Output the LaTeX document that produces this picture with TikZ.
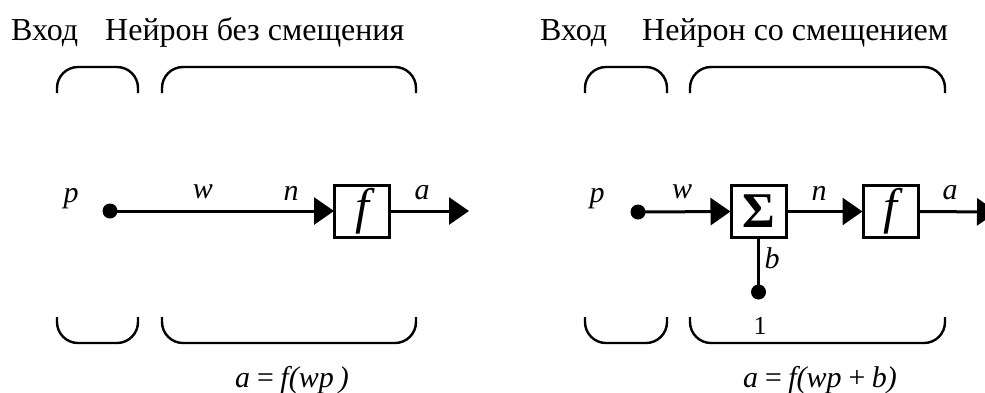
\documentclass[tikz,border=0pt]{standalone}
\usepackage{fontspec}
\setmainfont{Liberation Serif}
\usetikzlibrary{arrows.meta}
\begin{document}
\begin{tikzpicture}[x=1pt,y=-1pt,
  title/.style={font=\fontsize{32}{34}\selectfont, inner sep=0pt, anchor=base west},
  lbl/.style={font=\fontsize{30}{32}\selectfont\itshape, inner sep=0pt},
  formula/.style={font=\fontsize{30}{32}\selectfont\itshape, inner sep=0pt},
  brace/.style={line width=2.4pt, rounded corners=21pt},
  conn/.style={line width=3pt},
  arr/.style={line width=3pt, -{Triangle[length=20pt,width=27pt]}, shorten >=-1pt},
  blockbox/.style={draw, line width=3pt, minimum width=55pt, minimum height=52pt, inner sep=0pt},
  dotnode/.style={circle, fill, inner sep=0pt, minimum size=15pt},
  fsym/.style={font=\fontsize{50}{52}\selectfont\itshape},
  ssym/.style={font=\fontsize{50}{52}\selectfont\bfseries}
]
\useasboundingbox (0,0) rectangle (985,392);
% ---------- left panel ----------
\node[title] (tinL) at (11,40) {Вход};
\node[title] (tnL) at (105,40) {Нейрон без смещения};
\draw[brace] (57,93) -- (57,67) -- (138,67) -- (138,93);
\draw[brace] (162,93) -- (162,67) -- (416,67) -- (416,93);
\draw[brace] (57,317) -- (57,343) -- (138,343) -- (138,317);
\draw[brace] (162,317) -- (162,343) -- (416,343) -- (416,317);
\node[lbl] (pL) at (71,199) {p};
\node[dotnode] (dotL) at (110,211) {};
\node[blockbox, fsym] (fL) at (362,211) {f};
\node[lbl] (wL) at (203,192) {w};
\node[lbl] (nL) at (291,193) {n};
\node[lbl] (aL) at (422,193) {a};
\coordinate (outL) at (468,211);
\draw[arr] (dotL.center) -- (fL.west);
\draw[arr] (fL.east) -- (outL);
\node[formula] (eqL) at (292,380) {a\,=\,f(wp\,)};
% ---------- right panel ----------
\node[title] (tinR) at (540,40) {Вход};
\node[title] (tnR) at (642,40) {Нейрон со смещением};
\draw[brace] (585,93) -- (585,67) -- (667,67) -- (667,93);
\draw[brace] (690,93) -- (690,67) -- (945,67) -- (945,93);
\draw[brace] (585,317) -- (585,343) -- (667,343) -- (667,317);
\draw[brace] (690,317) -- (690,343) -- (945,343) -- (945,317);
\node[lbl] (pR) at (597,199) {p};
\node[dotnode] (dotR) at (638,212) {};
\node[blockbox, ssym] (sR) at (758.5,211.5) {Σ};
\node[blockbox, fsym] (fR) at (890.5,211.5) {f};
\node[lbl] (wR) at (682,192) {w};
\node[lbl] (nR) at (819,193) {n};
\node[lbl] (aR) at (950,193) {a};
\node[lbl] (bR) at (772,258) {b};
\node[dotnode] (dotB) at (758.5,292) {};
\node[font=\fontsize{26}{28}\selectfont, inner sep=0pt] (oneR) at (760,326) {1};
\coordinate (outR) at (996,212);
\draw[arr] (dotR.center) -- (sR.west);
\draw[arr] (sR.east) -- (fR.west);
\draw[arr] (fR.east) -- (outR);
\draw[conn] (sR.south) -- (dotB.center);
\node[formula] (eqR) at (820,380) {a\,=\,f(wp\,+\,b)};
\end{tikzpicture}
\end{document}
